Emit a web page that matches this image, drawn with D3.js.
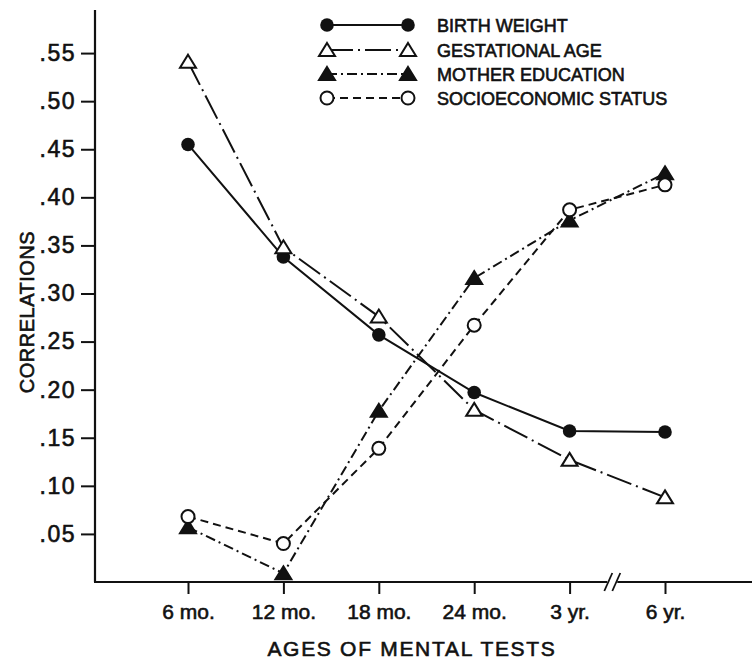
<!DOCTYPE html>
<html>
<head>
<meta charset="utf-8">
<script src="https://cdn.jsdelivr.net/npm/d3@7"></script>
<style>
  html, body { margin: 0; padding: 0; background: #fff; }
  svg { display: block; }
  text { font-family: "Liberation Sans", Arial, sans-serif; fill: #111; stroke: #111; stroke-width: 0.6px; }
</style>
</head>
<body>
<svg id="chart" width="754" height="662"></svg>
<script>
// Ages at which the mental tests were given
const categories = ["6 mo.", "12 mo.", "18 mo.", "24 mo.", "3 yr.", "6 yr."];

// Correlations of each predictor with the mental test score
const birthWeight         = [0.455, 0.338, 0.257, 0.197, 0.157, 0.156];
const gestationalAge      = [0.541, 0.348, 0.276, 0.179, 0.127, 0.088];
const motherEducation     = [0.057, 0.009, 0.178, 0.316, 0.376, 0.425];
const socioeconomicStatus = [0.068, 0.040, 0.139, 0.267, 0.387, 0.413];

const seriesNames = ["BIRTH WEIGHT", "GESTATIONAL AGE", "MOTHER EDUCATION", "SOCIOECONOMIC STATUS"];
const yTickValues = [0.05, 0.10, 0.15, 0.20, 0.25, 0.30, 0.35, 0.40, 0.45, 0.50, 0.55];

const svg = d3.select("#chart");
const ink = "#111";

const x = d3.scalePoint().domain(categories).range([188, 665]);
const y = d3.scaleLinear().domain([0, 0.6]).range([582, 5]);
const axisLeftX = 95;
const axisTop = 10;
const axisRight = 752;

// Line and marker styles per series
const styles = [
  { values: birthWeight,         dash: null,        marker: "dot",      filled: true },
  { values: gestationalAge,      dash: "26,5,2,5",  marker: "triangle", filled: false },
  { values: motherEducation,     dash: "10,4,2,4",  marker: "triangle", filled: true },
  { values: socioeconomicStatus, dash: "8,5",       marker: "circle",   filled: false }
];

// Axes
svg.append("line")
  .attr("x1", axisLeftX).attr("x2", axisLeftX)
  .attr("y1", axisTop).attr("y2", y(0))
  .attr("stroke", ink).attr("stroke-width", 2.2);
svg.append("line")
  .attr("x1", axisLeftX - 1).attr("x2", axisRight)
  .attr("y1", y(0)).attr("y2", y(0))
  .attr("stroke", ink).attr("stroke-width", 2.2);

const yAxis = d3.axisLeft(y)
  .tickValues(yTickValues)
  .tickSize(14)
  .tickPadding(5)
  .tickFormat(d => d3.format(".2f")(d).replace(/^0/, ""));
const gy = svg.append("g").attr("transform", `translate(${axisLeftX},0)`).call(yAxis);
gy.select(".domain").remove();
gy.selectAll(".tick line").attr("stroke", ink).attr("stroke-width", 2);
gy.selectAll(".tick text")
  .attr("font-size", 23)
  .attr("letter-spacing", 1.5)
  .style("font-family", "'Liberation Sans', Arial, sans-serif")
  .attr("fill", ink);

const xAxis = d3.axisBottom(x).tickSize(12).tickPadding(10);
const gx = svg.append("g").attr("transform", `translate(0,${y(0)})`).call(xAxis);
gx.select(".domain").remove();
gx.selectAll(".tick line").attr("stroke", ink).attr("stroke-width", 2);
gx.selectAll(".tick text")
  .attr("font-size", 21)
  .style("font-family", "'Liberation Sans', Arial, sans-serif")
  .attr("fill", ink);

// Axis break between 3 yr. and 6 yr.
const bx = (x("3 yr.") + x("6 yr.")) / 2 - 5;
svg.append("rect").attr("x", bx - 5).attr("y", y(0) - 3).attr("width", 10).attr("height", 6).attr("fill", "#fff");
[-4, 4].forEach(o => {
  svg.append("line")
    .attr("x1", bx + o - 4).attr("y1", y(0) + 9)
    .attr("x2", bx + o + 4).attr("y2", y(0) - 9)
    .attr("stroke", ink).attr("stroke-width", 1.8);
});

// Axis titles
svg.append("text")
  .attr("x", 412).attr("y", 656)
  .attr("text-anchor", "middle")
  .attr("font-size", 21)
  .attr("letter-spacing", 1.7)
  .text("AGES OF MENTAL TESTS");
svg.append("text")
  .attr("transform", "translate(34,312) rotate(-90)")
  .attr("text-anchor", "middle")
  .attr("font-size", 20)
  .attr("letter-spacing", 0.5)
  .text("CORRELATIONS");

// Marker drawing helper
function drawMarker(g, kind, filled, cx, cy) {
  if (kind === "dot") {
    g.append("circle").attr("cx", cx).attr("cy", cy).attr("r", 6.8)
      .attr("fill", ink).attr("stroke", "none");
  } else if (kind === "circle") {
    g.append("circle").attr("cx", cx).attr("cy", cy).attr("r", 6.5)
      .attr("fill", "#fff").attr("stroke", ink).attr("stroke-width", 2);
  } else {
    g.append("path")
      .attr("d", `M${cx},${cy - 7}L${cx + 8},${cy + 6}L${cx - 8},${cy + 6}Z`)
      .attr("fill", filled ? ink : "#fff")
      .attr("stroke", ink).attr("stroke-width", 2).attr("stroke-linejoin", "miter");
  }
}

const line = d3.line().x((d, i) => x(categories[i])).y(d => y(d));

// Series lines, then markers on top
const plot = svg.append("g");
styles.forEach(s => {
  plot.append("path")
    .datum(s.values)
    .attr("d", line)
    .attr("fill", "none")
    .attr("stroke", ink)
    .attr("stroke-width", 2)
    .attr("stroke-dasharray", s.dash);
});
styles.forEach(s => {
  s.values.forEach((v, i) => drawMarker(plot, s.marker, s.filled, x(categories[i]), y(v)));
});

// Legend
const legend = svg.append("g");
const legendY = [25, 50, 74, 98];
styles.forEach((s, i) => {
  const ly = legendY[i];
  legend.append("line")
    .attr("x1", 327).attr("x2", 408).attr("y1", ly).attr("y2", ly)
    .attr("stroke", ink).attr("stroke-width", 2)
    .attr("stroke-dasharray", s.dash);
  drawMarker(legend, s.marker, s.filled, 327, ly);
  drawMarker(legend, s.marker, s.filled, 408, ly);
  legend.append("text")
    .attr("x", 437).attr("y", ly + 7)
    .attr("font-size", 18)
    .text(seriesNames[i]);
});
</script>
</body>
</html>
